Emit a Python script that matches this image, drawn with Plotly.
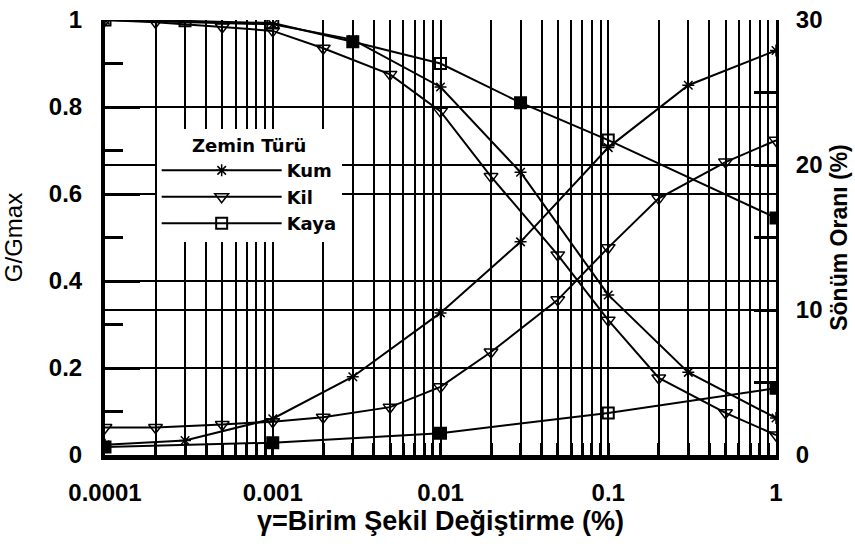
import plotly.graph_objects as go

# ---- data ----
kum_g_x = [0.0001, 0.001, 0.003, 0.01, 0.03, 0.1, 0.3, 1]
kum_g = [1.0, 0.99, 0.955, 0.846, 0.65, 0.368, 0.19, 0.085]
kum_d_x = [0.0001, 0.0003, 0.001, 0.003, 0.01, 0.03, 0.1, 0.3, 1]
kum_d = [0.7, 1.0, 2.5, 5.4, 9.8, 14.7, 21.2, 25.5, 27.9]

kil_x = [0.0001, 0.0002, 0.0005, 0.001, 0.002, 0.005, 0.01, 0.02, 0.05, 0.1, 0.2, 0.5, 1]
kil_g = [1.0, 0.995, 0.984, 0.975, 0.935, 0.875, 0.79, 0.64, 0.46, 0.31, 0.177, 0.097, 0.046]
kil_d = [1.9, 1.9, 2.1, 2.3, 2.6, 3.3, 4.7, 7.1, 10.7, 14.3, 17.7, 20.2, 21.7]

kaya_g_x = [0.0001, 0.0003, 0.001, 0.003, 0.01, 0.03, 0.1, 1]
kaya_g = [1.0, 0.998, 0.993, 0.95, 0.90, 0.81, 0.724, 0.545]
kaya_d_x = [0.0001, 0.001, 0.01, 0.1, 1]
kaya_d = [0.55, 0.85, 1.5, 2.9, 4.6]

series_names = ["Kum", "Kil", "Kaya"]
x_tick_vals = [0.0001, 0.001, 0.01, 0.1, 1]
x_tick_text = ["0.0001", "0.001", "0.01", "0.1", "1"]
y_tick_vals = [0, 0.2, 0.4, 0.6, 0.8, 1]
y_tick_text = ["0", "0.2", "0.4", "0.6", "0.8", "1"]
y2_tick_vals = [0, 10, 20, 30]
y2_tick_text = ["0", "10", "20", "30"]

# ---- styles ----
kaya_g_sym = ["square-open", "square-open", "square-open", "square", "square-open", "square", "square-open", "square"]
kaya_d_sym = ["square", "square", "square", "square-open", "square"]
LINE = dict(color="black", width=2)

fig = go.Figure()

# G/Gmax curves (left axis)
fig.add_trace(go.Scatter(x=kum_g_x, y=kum_g, name=series_names[0], mode="lines+markers",
                         line=LINE, legendrank=1,
                         marker=dict(symbol="asterisk-open", size=10, color="black",
                                     line=dict(color="black", width=1.5))))
fig.add_trace(go.Scatter(x=kil_x, y=kil_g, name=series_names[1], mode="lines+markers",
                         line=LINE, legendrank=2,
                         marker=dict(symbol="triangle-down-open", size=12, color="black",
                                     line=dict(color="black", width=1.5))))
fig.add_trace(go.Scatter(x=kaya_g_x, y=kaya_g, name=series_names[2], mode="lines+markers",
                         line=LINE, legendrank=3,
                         marker=dict(symbol=kaya_g_sym, size=11, color="black",
                                     line=dict(color="black", width=2))))

# Damping curves (right axis)
fig.add_trace(go.Scatter(x=kum_d_x, y=kum_d, yaxis="y2", mode="lines+markers", showlegend=False,
                         line=LINE,
                         marker=dict(symbol="asterisk-open", size=10, color="black",
                                     line=dict(color="black", width=1.5))))
fig.add_trace(go.Scatter(x=kil_x, y=kil_d, yaxis="y2", mode="lines+markers", showlegend=False,
                         line=LINE,
                         marker=dict(symbol="triangle-down-open", size=12, color="black",
                                     line=dict(color="black", width=1.5))))
fig.add_trace(go.Scatter(x=kaya_d_x, y=kaya_d, yaxis="y2", mode="lines+markers", showlegend=False,
                         line=LINE,
                         marker=dict(symbol=kaya_d_sym, size=11, color="black",
                                     line=dict(color="black", width=2))))

TICKFONT = dict(family="Liberation Sans Narrow, Arial Narrow, Liberation Sans, Arial", size=24,
                color="black", weight="bold")

fig.update_layout(
    width=855, height=546,
    margin=dict(l=105, r=79, t=20, b=91),
    paper_bgcolor="white", plot_bgcolor="white",
    font=dict(family="Liberation Sans, Arial", color="black"),
    xaxis=dict(
        type="log", range=[-4, 0], automargin=False,
        tickvals=x_tick_vals, ticktext=x_tick_text,
        ticks="inside", ticklen=12, tickwidth=3, tickcolor="black",
        showgrid=True, gridcolor="black", gridwidth=1.6,
        minor=dict(dtick="D1", ticks="inside", ticklen=12, tickwidth=3, tickcolor="black",
                   showgrid=True, gridcolor="black", gridwidth=1.6),
        showline=True, linecolor="black", linewidth=5, mirror=False,
        tickfont=TICKFONT, ticklabelstandoff=12,
        title=dict(text="γ=Birim Şekil Değiştirme (%)", standoff=6,
                   font=dict(family="Liberation Sans Narrow, Liberation Sans, Arial", size=27,
                             color="black", weight="bold")),
        zeroline=False,
    ),
    xaxis2=dict(
        type="log", range=[-4, 0], overlaying="x", side="top", automargin=False,
        showline=True, linecolor="black", linewidth=2,
        showticklabels=False, ticks="", showgrid=False, zeroline=False,
    ),
    yaxis=dict(
        range=[0, 1], tickvals=y_tick_vals, ticktext=y_tick_text, automargin=False,
        ticks="inside", ticklen=35, tickwidth=3, tickcolor="black",
        minor=dict(dtick=0.1, ticks="inside", ticklen=18, tickwidth=3, tickcolor="black", showgrid=False),
        showgrid=True, gridcolor="black", gridwidth=2,
        showline=True, linecolor="black", linewidth=4,
        tickfont=TICKFONT, ticklabelstandoff=14,
        zeroline=False,
        title=dict(text="G/Gmax", standoff=20,
                   font=dict(family="Liberation Sans, Arial", size=24, color="black")),
    ),
    yaxis2=dict(
        range=[0, 30], overlaying="y", side="right", automargin=False,
        tickvals=y2_tick_vals, ticktext=y2_tick_text,
        ticks="inside", ticklen=22, tickwidth=3, tickcolor="black",
        minor=dict(dtick=5, ticks="inside", ticklen=22, tickwidth=3, tickcolor="black", showgrid=False),
        showgrid=True, gridcolor="black", gridwidth=2,
        showline=True, linecolor="black", linewidth=3,
        tickfont=TICKFONT, ticklabelstandoff=12,
        zeroline=False,
        title=dict(text="Sönüm Oranı (%)", standoff=10,
                   font=dict(family="Liberation Sans, Arial", size=23, color="black", weight="bold")),
    ),
    legend=dict(
        x=0.077, y=0.75, xanchor="left", yanchor="top",
        bgcolor="white", borderwidth=0,
        itemwidth=120, tracegroupgap=0,
        font=dict(family="DejaVu Sans, Verdana", size=18, color="black", weight="bold"),
        title=dict(text="Zemin Türü", side="top center",
                   font=dict(family="DejaVu Sans, Verdana", size=18, color="black", weight="bold")),
    ),
    showlegend=True,
)

fig.write_html("out.html")
